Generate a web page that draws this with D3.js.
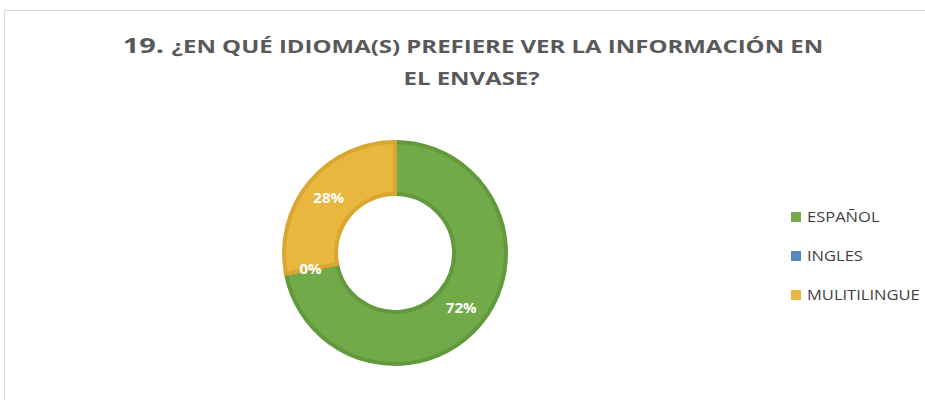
<!DOCTYPE html>
<html><head><meta charset="utf-8">
<script src="https://cdn.jsdelivr.net/npm/d3@7"></script>
<style>body{margin:0;background:#fff}svg{display:block}</style>
</head><body>
<svg id="c" width="925" height="400"></svg>
<script>
const categories = ["ESPAÑOL", "INGLES", "MULITILINGUE"];
const values = [72, 0, 28];
const colors = ["#72aa4a", "#5b87c5", "#e9b73e"];
const strokes = ["#62993d", "#4a76b3", "#d9a631"];

const svg = d3.select("#c");
svg.append("rect").attr("x",4.5).attr("y",10.5).attr("width",940).attr("height",420)
  .attr("fill","#fff").attr("stroke","#d9d9d9").attr("stroke-width",1);

const tg = svg.append("g").attr("transform","translate(473,0) scale(1.41,1)");
const title = tg.append("text").attr("text-anchor","middle")
  .attr("font-family","'Open Sans', sans-serif").attr("font-weight","bold").attr("fill","#595959");
const t1 = title.append("tspan").attr("x",0).attr("y",53);
t1.append("tspan").attr("font-size",20.5).text("19. ");
t1.append("tspan").attr("font-size",17).text("¿EN QUÉ IDIOMA(S) PREFIERE VER LA INFORMACIÓN EN");
title.append("tspan").attr("x",-1).attr("y",85).attr("font-size",17).text("EL ENVASE?");

const cx = 395, cy = 253, rO = 113, rI = 57;
const pie = d3.pie().sort(null).value(d => d)(values);
const arc = d3.arc().innerRadius(rI+2).outerRadius(rO-2);
const g = svg.append("g").attr("transform",`translate(${cx},${cy})`);
g.selectAll("path").data(pie).join("path")
  .attr("d", arc).attr("fill",(d,i)=>colors[i]).attr("stroke",(d,i)=>strokes[i]).attr("stroke-width",4);

const lab = d3.arc().innerRadius(86).outerRadius(86);
g.selectAll("text.l").data(pie).join("text").attr("class","l")
  .attr("transform", d => `translate(${lab.centroid(d)}) scale(1.12,1)`)
  .attr("text-anchor","middle").attr("dy","0.35em")
  .attr("font-family","'Open Sans', sans-serif").attr("font-weight","bold").attr("font-size",13.5)
  .attr("fill","#fff").text(d => d.data + "%");

const leg = svg.append("g");
const ly = d3.scalePoint().domain(categories).range([217, 295]);
categories.forEach((c,i) => {
  leg.append("rect").attr("x",791).attr("y",ly(c)-5).attr("width",10).attr("height",10).attr("fill",colors[i]);
  leg.append("text").attr("transform",`translate(807,${ly(c)}) scale(1.14,1)`).attr("dy","0.36em")
    .attr("font-family","'Open Sans', sans-serif").attr("font-size",14.5).attr("fill","#404040").text(c);
});
</script>
</body></html>
